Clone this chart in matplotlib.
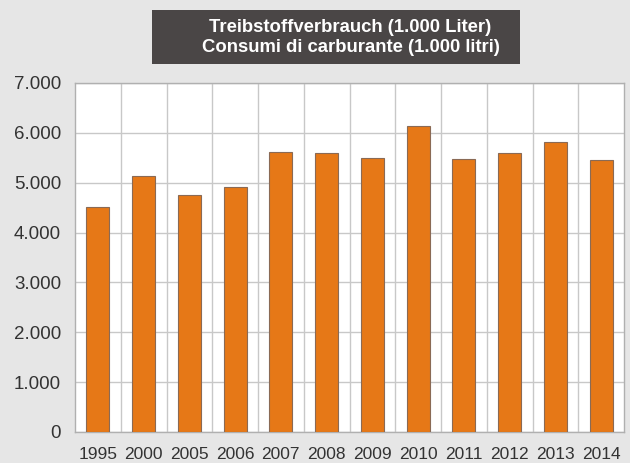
import matplotlib.pyplot as plt
from matplotlib.patches import Rectangle
from matplotlib.ticker import FuncFormatter

years = ["1995", "2000", "2005", "2006", "2007", "2008",
         "2009", "2010", "2011", "2012", "2013", "2014"]
fuel = [4520, 5140, 4750, 4910, 5610, 5600,
        5500, 6140, 5475, 5600, 5815, 5460]
title_lines = ["Treibstoffverbrauch (1.000 Liter)",
               "Consumi di carburante (1.000 litri)"]

plt.rcParams["font.family"] = ["Liberation Sans", "DejaVu Sans"]
bg = "#e6e6e6"

fig = plt.figure(figsize=(6.3, 4.63), dpi=100, facecolor=bg)
ax = fig.add_axes([75 / 630, 1 - 432 / 463, 549 / 630, 349 / 463])
ax.set_facecolor("white")

x = list(range(len(years)))
ax.bar(x, fuel, width=0.5, color="#e67817", edgecolor="#8a6a55",
       linewidth=0.8, zorder=3)

ax.set_xlim(-0.5, len(years) - 0.5)
ax.set_ylim(0, 7000)
ax.set_yticks(range(0, 7001, 1000))
ax.yaxis.set_major_formatter(
    FuncFormatter(lambda v, p: f"{int(v):,}".replace(",", ".")))
ax.set_xticks(x)
ax.set_xticklabels(years)
ax.set_xticks([i - 0.5 for i in range(1, len(years))], minor=True)

ax.grid(axis="y", which="major", color="#c8c8c8", linewidth=1, zorder=0)
ax.grid(axis="x", which="minor", color="#c8c8c8", linewidth=1, zorder=0)
ax.tick_params(axis="both", which="both", length=0, colors="#333333")
ax.tick_params(axis="x", pad=11, labelsize=12.5)
ax.tick_params(axis="y", pad=10, labelsize=13.5)
for s in ax.spines.values():
    s.set_color("#b0b0b0")
    s.set_linewidth(1)

box = Rectangle((152 / 630, 1 - 64 / 463), 368 / 630, 54 / 463,
                transform=fig.transFigure, facecolor="#4a4646",
                edgecolor="none")
fig.patches.append(box)
fig.text(350 / 630, 1 - 27 / 463, title_lines[0], ha="center", va="center",
         color="white", fontsize=13.3, fontweight="bold")
fig.text(351 / 630, 1 - 47 / 463, title_lines[1], ha="center", va="center",
         color="white", fontsize=13.3, fontweight="bold")

fig.savefig("out.png", dpi=100, facecolor=bg)
